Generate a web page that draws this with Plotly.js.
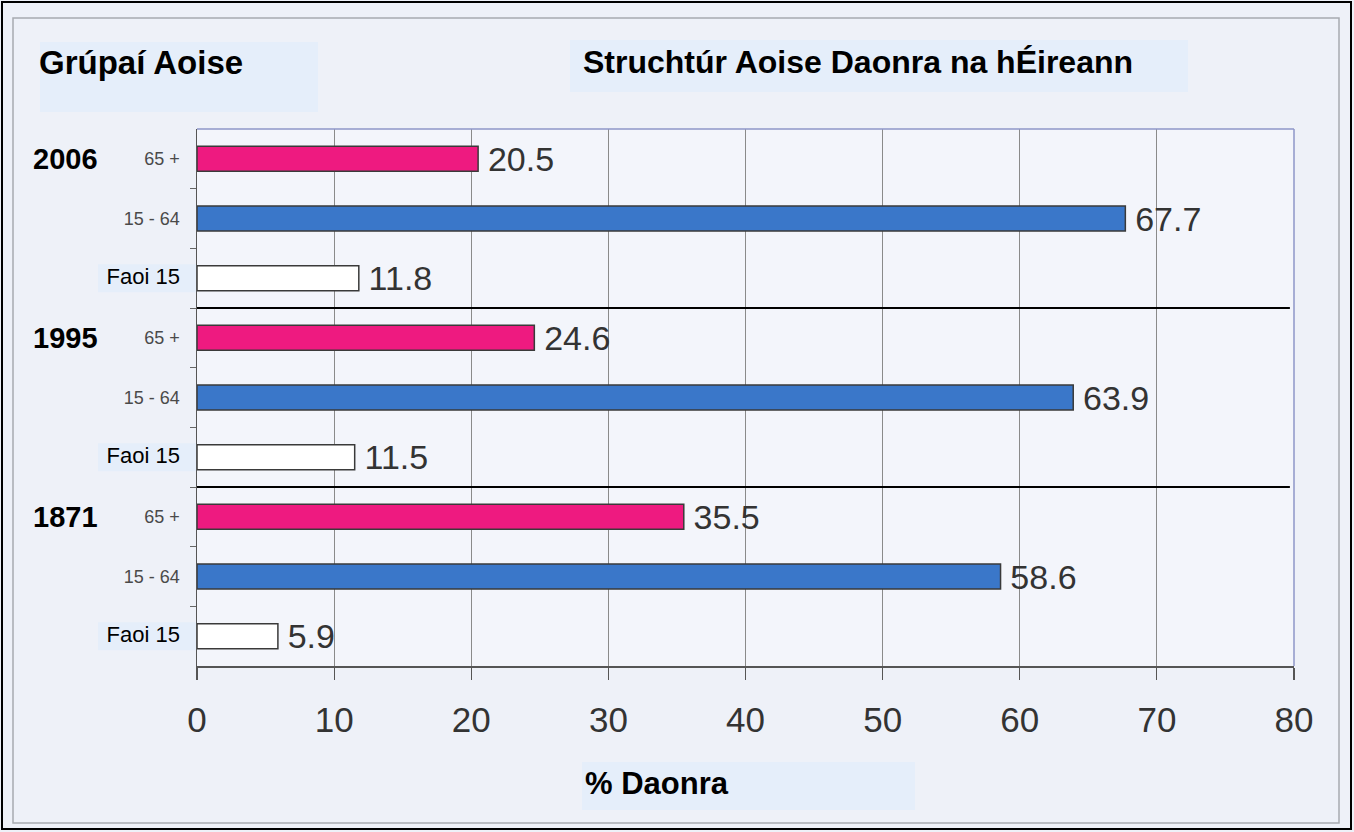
<!DOCTYPE html>
<html>
<head>
<meta charset="utf-8">
<script src="https://cdn.plot.ly/plotly-3.0.1.min.js"></script>
<style>
  html, body { margin: 0; padding: 0; background: #eef1f8; }
  #chart { width: 1354px; height: 832px; }
</style>
</head>
<body>
<div id="chart"></div>
<script>
// ---- data ----
const years = ['2006', '1995', '1871'];
const groups = ['65 +', '15 - 64', 'Faoi 15'];
const values65plus = [20.5, 24.6, 35.5];
const values15to64 = [67.7, 63.9, 58.6];
const valuesUnder15 = [11.8, 11.5, 5.9];
const xTicks = [0, 10, 20, 30, 40, 50, 60, 70, 80];
const chartTitle = 'Struchtúr Aoise Daonra na hÉireann';
const groupTitle = 'Grúpaí Aoise';
const xTitle = '% Daonra';

// ---- layout helpers ----
const W = 1354, H = 832;
const L = 197, R = 1294, T = 129, B = 666;
const px = x => (x - L) / (R - L);
const py = y => (B - y) / (B - T);

const seriesVals = [values65plus, values15to64, valuesUnder15];
const colors = ['#ee1a80', '#3a77c9', '#ffffff'];
const nRows = years.length * groups.length;

// row index (0 at top): year*3 + group
const rowOf = (yi, gi) => yi * groups.length + gi;

const traces = groups.map((g, gi) => ({
  type: 'bar',
  orientation: 'h',
  name: g,
  y: years.map((yr, yi) => rowOf(yi, gi)),
  x: seriesVals[gi],
  width: 0.42,
  marker: { color: colors[gi], line: { color: '#3a3a3a', width: 1.5 } },
  text: seriesVals[gi].map(v => '\u2009' + v.toFixed(1)),
  textposition: 'outside',
  textfont: { size: 34, color: '#333333', family: 'Liberation Sans, Arial, sans-serif' },
  constraintext: 'none',
  cliponaxis: false,
  hoverinfo: 'x+name'
}));

const tickvals = [], ticktext = [];
years.forEach((yr, yi) => groups.forEach((g, gi) => {
  tickvals.push(rowOf(yi, gi));
  ticktext.push(gi === 2
    ? '<span style="font-size:22px;fill:#000000">' + g + '</span>'
    : g);
}));
const boundaries = [];
for (let i = 0; i < nRows - 1; i++) boundaries.push(i + 0.5);

const shapes = [
  // outer black border
  { type: 'rect', xref: 'paper', yref: 'paper', x0: px(2), x1: px(1351), y0: py(829), y1: py(2),
    line: { color: '#000', width: 2 }, layer: 'below' },
  // inner gray frame
  { type: 'rect', xref: 'paper', yref: 'paper', x0: px(13), x1: px(1339), y0: py(823), y1: py(18),
    line: { color: '#a8aab0', width: 1.5 }, layer: 'below' },
  // text background boxes
  { type: 'rect', xref: 'paper', yref: 'paper', x0: px(40), x1: px(318), y0: py(112), y1: py(42),
    fillcolor: '#e5eefa', line: { width: 0 }, layer: 'below' },
  { type: 'rect', xref: 'paper', yref: 'paper', x0: px(570), x1: px(1188), y0: py(92), y1: py(40),
    fillcolor: '#e5eefa', line: { width: 0 }, layer: 'below' },
  { type: 'rect', xref: 'paper', yref: 'paper', x0: px(582), x1: px(915), y0: py(810), y1: py(762),
    fillcolor: '#e5eefa', line: { width: 0 }, layer: 'below' },
  // plot frame top/right (bluish)
  { type: 'line', xref: 'paper', yref: 'paper', x0: 0, x1: 1, y0: 1, y1: 1,
    line: { color: '#8e96c8', width: 1.5 } },
  { type: 'line', xref: 'paper', yref: 'paper', x0: 1, x1: 1, y0: 0, y1: 1,
    line: { color: '#8e96c8', width: 1.5 } }
];
// boxes behind "Faoi 15" labels
const rowH = (B - T) / nRows;
years.forEach((yr, yi) => {
  const r = rowOf(yi, 2);
  const cy = T + (r + 0.5) * rowH;
  shapes.push({ type: 'rect', xref: 'paper', yref: 'paper', x0: px(98), x1: px(196),
    y0: py(cy + 14), y1: py(cy - 14), fillcolor: '#e5eefa', line: { width: 0 }, layer: 'below' });
});
// separator lines between year groups
for (let yi = 1; yi < years.length; yi++) {
  const yb = rowOf(yi, 0) - 0.5;
  shapes.push({ type: 'line', xref: 'x', yref: 'y', x0: 0, x1: 79.7, y0: yb, y1: yb,
    line: { color: '#000', width: 2 } });
}

const annotations = years.map((yr, yi) => ({
  xref: 'paper', yref: 'y', x: px(31), y: rowOf(yi, 0), xanchor: 'left', yanchor: 'middle',
  text: yr, showarrow: false,
  font: { size: 29, color: '#000', weight: 'bold', family: 'Liberation Sans, Arial, sans-serif' }
}));
annotations.push({
  xref: 'paper', yref: 'paper', x: px(37), y: py(62), xanchor: 'left', yanchor: 'middle',
  text: groupTitle, showarrow: false,
  font: { size: 33, color: '#000', weight: 'bold', family: 'Liberation Sans, Arial, sans-serif' }
});
annotations.push({
  xref: 'paper', yref: 'paper', x: px(583), y: py(783), xanchor: 'left', yanchor: 'middle',
  text: xTitle, showarrow: false,
  font: { size: 31, color: '#000', weight: 'bold', family: 'Liberation Sans, Arial, sans-serif' }
});

const layout = {
  width: W, height: H,
  margin: { l: L, r: W - R, t: T, b: H - B, pad: 0 },
  paper_bgcolor: '#eef1f8',
  plot_bgcolor: '#f3f5fb',
  showlegend: false,
  barmode: 'overlay',
  font: { family: 'Liberation Sans, Arial, sans-serif', color: '#333' },
  title: {
    text: chartTitle,
    x: 583 / W, xanchor: 'left', xref: 'container',
    y: 1 - 62 / H, yanchor: 'middle', yref: 'container',
    font: { size: 32, color: '#000', weight: 'bold', family: 'Liberation Sans, Arial, sans-serif' }
  },
  xaxis: {
    range: [0, 80],
    tickmode: 'array', tickvals: xTicks, ticktext: xTicks.map(String),
    ticks: 'outside', ticklen: 12, tickcolor: '#555', tickwidth: 1.2,
    tickfont: { size: 35, color: '#333' },
    ticklabelstandoff: 10,
    showgrid: true, gridcolor: '#8a8a8a', gridwidth: 1,
    showline: true, linecolor: '#555', linewidth: 1.5,
    zeroline: false, fixedrange: true
  },
  yaxis: {
    range: [nRows - 0.5, -0.5],
    tickmode: 'array', tickvals: tickvals, ticktext: ticktext,
    ticks: '', tickfont: { size: 18, color: '#4a4a4a' },
    ticklabelstandoff: 12,
    minor: { tickmode: 'array', tickvals: boundaries, ticks: 'outside', ticklen: 6,
             tickcolor: '#666', tickwidth: 1, showgrid: false },
    showgrid: false,
    showline: true, linecolor: '#555', linewidth: 1.5,
    zeroline: false, fixedrange: true
  },
  shapes: shapes,
  annotations: annotations
};

Plotly.newPlot('chart', traces, layout, { displayModeBar: false, staticPlot: true });
</script>
</body>
</html>
